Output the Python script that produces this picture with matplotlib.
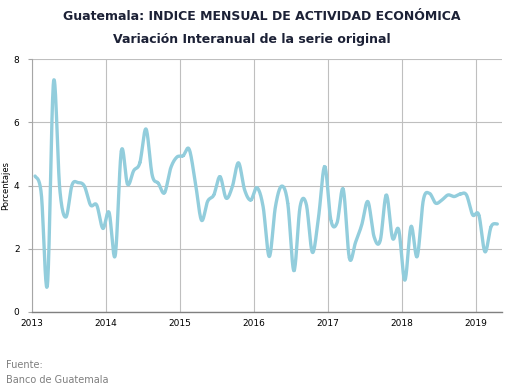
import numpy as np
import matplotlib.pyplot as plt

# variación interanual mensual, ene-2013 a abr-2019
valores = [
    4.30, 3.75, 0.85, 7.30, 3.90, 3.00, 4.02, 4.09, 3.98, 3.38, 3.38, 2.64,
    3.15, 1.78, 5.10, 4.04, 4.47, 4.72, 5.79, 4.33, 4.07, 3.77, 4.55, 4.90,
    4.94, 5.15, 4.10, 2.90, 3.50, 3.70, 4.28, 3.60, 3.96, 4.72, 3.86, 3.54,
    3.93, 3.33, 1.75, 3.33, 3.98, 3.44, 1.30, 3.33, 3.41, 1.88, 3.01, 4.60,
    2.90, 2.82, 3.88, 1.70, 2.20, 2.75, 3.49, 2.38, 2.25, 3.70, 2.33, 2.60,
    1.00, 2.70, 1.75, 3.54, 3.75, 3.44, 3.54, 3.70, 3.65, 3.73, 3.70, 3.07,
    3.07, 1.90, 2.70, 2.78,
]
anios = [2013, 2014, 2015, 2016, 2017, 2018, 2019]
yticks = [0, 2, 4, 6, 8]

# posición de cada mes (centro del mes)
x = 2013 + (np.arange(len(valores)) + 0.5) / 12
y = np.array(valores)

# curva suavizada (Catmull-Rom, como la línea suavizada de Excel)
xs, ys = [], []
px = np.concatenate([[x[0]], x, [x[-1]]])
py = np.concatenate([[y[0]], y, [y[-1]]])
t = np.linspace(0, 1, 20)
for i in range(1, len(px) - 2):
    for arr, out in ((px, xs), (py, ys)):
        p0, p1, p2, p3 = arr[i - 1], arr[i], arr[i + 1], arr[i + 2]
        seg = 0.5 * ((2 * p1) + (-p0 + p2) * t
                     + (2 * p0 - 5 * p1 + 4 * p2 - p3) * t ** 2
                     + (-p0 + 3 * p1 - 3 * p2 + p3) * t ** 3)
        out.extend(seg)

fig = plt.figure(figsize=(5.23, 3.91), dpi=100)
ax = fig.add_axes([0.0612, 0.2028, 0.8986, 0.6455])

ax.plot(xs, ys, color="#92CDDC", lw=2.4, solid_capstyle="round")

ax.set_xlim(2013, 2019.355)
ax.set_ylim(0, 8)
ax.set_xticks(anios)
ax.set_xticklabels([str(a) for a in anios], fontsize=6.5)
ax.set_yticks(yticks)
ax.set_yticklabels([str(v) for v in yticks], fontsize=6.5)
ax.tick_params(axis="x", length=0, pad=5)
ax.tick_params(axis="y", length=3, color="#A6A6A6", pad=6)
ax.grid(True, color="#BFBFBF", lw=0.8)
ax.set_axisbelow(True)
for s in ["top", "right"]:
    ax.spines[s].set_visible(False)
ax.spines["left"].set_color("#A6A6A6")
ax.spines["bottom"].set_color("#808080")
ax.spines["bottom"].set_linewidth(1.0)
ax.set_ylabel("Porcentajes", fontsize=6)
ax.yaxis.set_label_coords(-0.047, 0.5)

fig.text(0.5, 0.958, "Guatemala: INDICE MENSUAL DE ACTIVIDAD ECONÓMICA",
         ha="center", va="center", fontsize=9, fontweight="bold",
         color="#1C2136", family="DejaVu Sans")
fig.text(0.482, 0.898, "Variación Interanual de la serie original",
         ha="center", va="center", fontsize=9, fontweight="bold",
         color="#1C2136", family="DejaVu Sans")
fig.text(0.011, 0.066, "Fuente:", fontsize=7, color="#7F7F7F", va="center")
fig.text(0.011, 0.027, "Banco de Guatemala", fontsize=7, color="#7F7F7F",
         va="center")

fig.savefig("out.png", dpi=100)
